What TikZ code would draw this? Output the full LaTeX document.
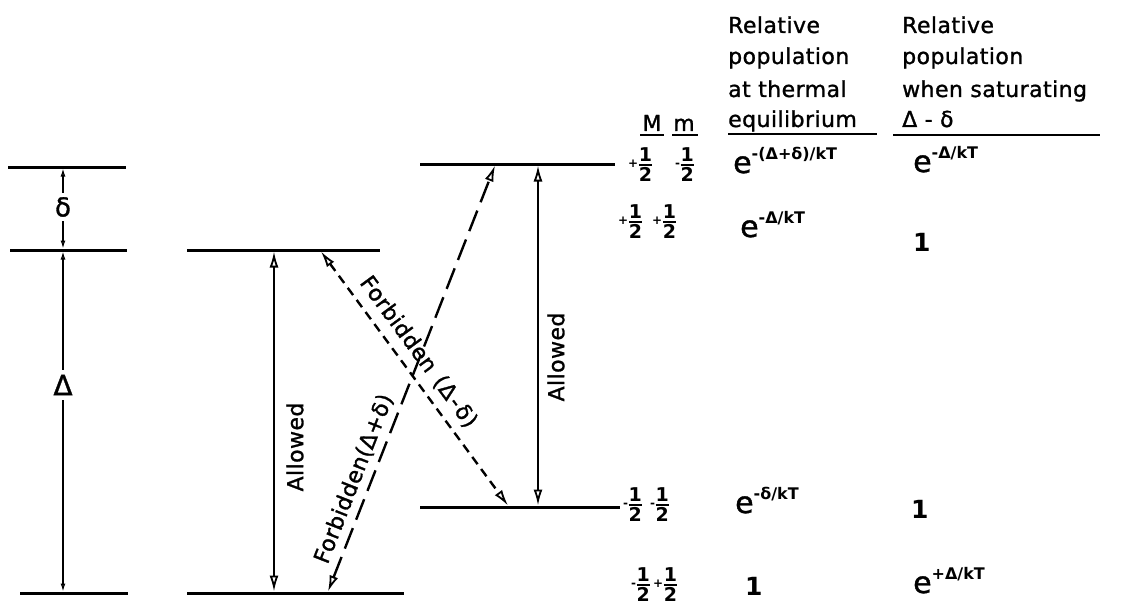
\documentclass[tikz,border=0pt]{standalone}
\usepackage{fontspec}
\setmainfont{DejaVu Sans}
\newfontfamily\hdrfont[LetterSpace=2,FakeBold=1.2]{DejaVu Sans}
\usetikzlibrary{arrows.meta}
\newcommand{\expo}[1]{{\hdrfont\fontsize{30}{30}\selectfont e}\raisebox{14pt}{\fontsize{16}{16}\selectfont\bfseries #1}}
\newcommand{\halff}[1]{{\fontsize{12}{12}\selectfont\bfseries #1}\kern0.5pt$\nulldelimiterspace=0pt\textstyle{\hbox{\fontsize{19}{19}\selectfont\bfseries 1}\above2pt\hbox{\fontsize{19}{19}\selectfont\bfseries 2}}$}
\tikzset{
  level/.style={line width=3pt},
  uline/.style={line width=2pt},
  bigtip/.tip={Latex[open,length=16pt,width=9pt,line width=1.8pt]},
  smalltip/.tip={Latex[open,length=8pt,width=5pt,line width=1.3pt]},
  allowed/.style={line width=2.5pt,bigtip-bigtip},
  longdash/.style={line width=2.4pt,dash pattern=on 22pt off 9pt,bigtip-bigtip},
  shortdash/.style={line width=2.4pt,dash pattern=on 9pt off 6pt,bigtip-bigtip},
  scalearrow/.style={line width=2pt,-smalltip},
  lbl/.style={font=\hdrfont\fontsize{22}{24}\selectfont,inner sep=0pt},
  val/.style={anchor=base west,inner sep=0pt},
  frac/.style={anchor=west,inner sep=0pt},
}
\begin{document}
\begin{tikzpicture}[x=1pt,y=-1pt]
\useasboundingbox[fill=white] (0,0) rectangle (1126,607);

% ---------- left scale ----------
\coordinate (L1w) at (8,167);  \coordinate (L1e) at (126,167);
\coordinate (L2w) at (10,250); \coordinate (L2e) at (127,250);
\coordinate (L3w) at (20,593); \coordinate (L3e) at (128,593);
\draw[level] (L1w) -- (L1e);
\draw[level] (L2w) -- (L2e);
\draw[level] (L3w) -- (L3e);
\coordinate (L1) at (63,168.5);
\coordinate (L2) at (63,248.5);
\coordinate (L2b) at (63,251.5);
\coordinate (L3) at (63,591.5);
\node[font=\hdrfont\fontsize{26}{26}\selectfont,inner sep=4pt] (dl) at (63,207) {δ};
\node[font=\hdrfont\fontsize{28}{28}\selectfont,inner sep=5pt] (Dl) at (63,385) {Δ};
\draw[scalearrow] (dl) -- (L1);
\draw[scalearrow] (dl) -- (L2);
\draw[scalearrow] (Dl) -- (L2b);
\draw[scalearrow] (Dl) -- (L3);

% ---------- middle levels ----------
\coordinate (M1w) at (187,250); \coordinate (M1e) at (380,250);
\coordinate (M2w) at (187,593); \coordinate (M2e) at (404,593);
\draw[level] (M1w) -- (M1e);
\draw[level] (M2w) -- (M2e);
\coordinate (A1t) at (274,251.5); \coordinate (A1b) at (274,591.5);
\draw[allowed] (A1t) -- (A1b);
\node[lbl,rotate=90] (al1) at (295,447) {Allowed};

% ---------- right levels ----------
\coordinate (R1w) at (420,164); \coordinate (R1e) at (615,164);
\coordinate (R2w) at (420,507); \coordinate (R2e) at (620,507);
\draw[level] (R1w) -- (R1e);
\draw[level] (R2w) -- (R2e);
\coordinate (A2t) at (538,165.5); \coordinate (A2b) at (538,505.5);
\draw[allowed] (A2t) -- (A2b);
\node[lbl,rotate=90] (al2) at (556,357) {Allowed};

% ---------- forbidden transitions ----------
\coordinate (Fp1) at (328,591.5); \coordinate (Fp2) at (495,165.5);
\draw[longdash] (Fp1) -- node[lbl,sloped,above=6pt,pos=0.25] (fpl) {Forbidden(Δ+δ)} (Fp2);
\coordinate (Fm1) at (321,251.5); \coordinate (Fm2) at (508,505.5);
\draw[shortdash] (Fm1) -- node[lbl,sloped,above=8pt,pos=0.44] (fml) {Forbidden\hspace{10pt}(Δ\kern2pt-\kern2ptδ)} (Fm2);

% ---------- table header ----------
\node[lbl,anchor=base] (hM) at (652,131) {M};
\node[lbl,anchor=base] (hm) at (684,131) {m};
\node[lbl,anchor=base west] (h11) at (728,33) {Relative};
\node[lbl,anchor=base west] (h12) at (728,64) {population};
\node[lbl,anchor=base west] (h13) at (728,97) {at thermal};
\node[lbl,anchor=base west] (h14) at (728,127) {equilibrium};
\node[lbl,anchor=base west] (h21) at (902,33) {Relative};
\node[lbl,anchor=base west] (h22) at (902,64) {population};
\node[lbl,anchor=base west] (h23) at (902,97) {when saturating};
\node[lbl,anchor=base west] (h24) at (902,127) {Δ - δ};
\draw[uline] (640,135) -- (664,135);
\draw[uline] (672,135) -- (698,135);
\draw[uline] (728,134) -- (877,134);
\draw[uline] (893,135) -- (1100,135);

% ---------- rows ----------
\node[frac] (f11) at (628,165) {\halff{+}};
\node[frac] (f12) at (675,165) {\halff{-}};
\node[val] (e11) at (733,173) {\expo{-(Δ+δ)/kT}};
\node[val] (e12) at (913,172) {\expo{-Δ/kT}};

\node[frac] (f21) at (618,222) {\halff{+}};
\node[frac] (f22) at (652,222) {\halff{+}};
\node[val] (e21) at (740,237) {\expo{-Δ/kT}};
\node[val,font=\fontsize{25}{25}\selectfont\bfseries] (e22) at (913,251) {1};

\node[frac] (f31) at (623,505) {\halff{-}};
\node[frac] (f32) at (650,505) {\halff{-}};
\node[val] (e31) at (735,513) {\expo{-δ/kT}};
\node[val,font=\fontsize{25}{25}\selectfont\bfseries] (e32) at (911,518) {1};

\node[frac] (f41) at (631,585) {\halff{-}};
\node[frac] (f42) at (653,585) {\halff{+}};
\node[val,font=\fontsize{25}{25}\selectfont\bfseries] (e41) at (745,595) {1};
\node[val] (e42) at (913,593) {\expo{+Δ/kT}};
\end{tikzpicture}
\end{document}
